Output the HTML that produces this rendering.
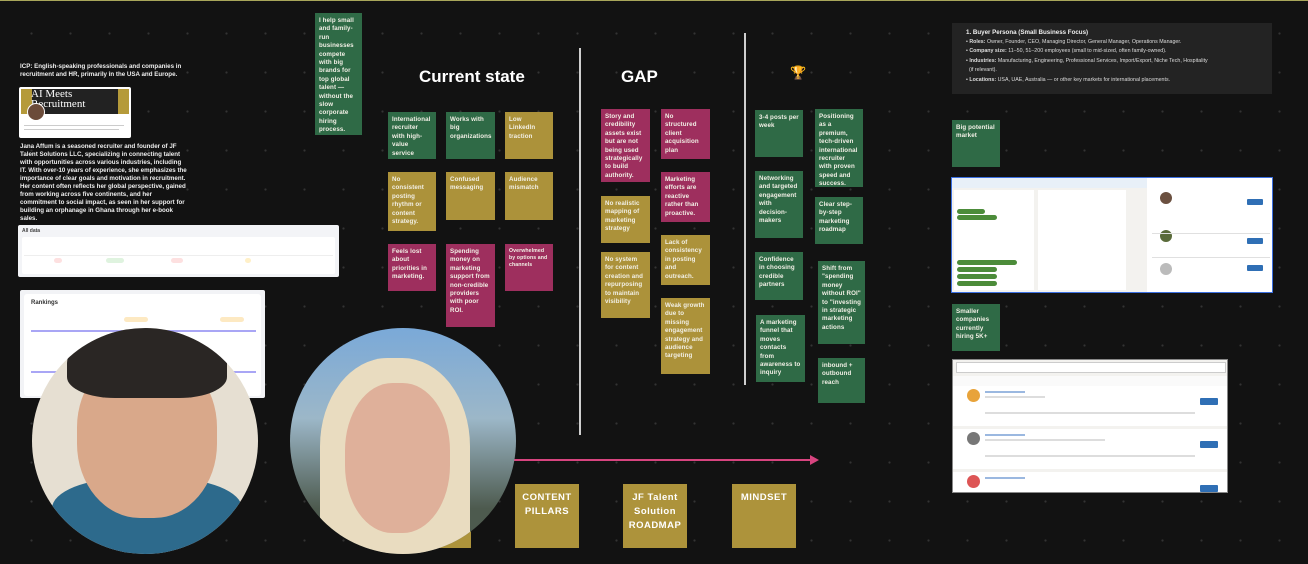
<!DOCTYPE html>
<html><head><meta charset="utf-8"><style>
*{margin:0;padding:0;box-sizing:border-box}
html{width:1308px;height:564px;overflow:hidden}
body{width:1308px;height:564px;overflow:hidden;background:#121212;position:relative;font-family:"Liberation Sans",sans-serif;
background-image:radial-gradient(circle,#333 0.9px,transparent 1.3px);background-size:39px 39px;background-position:12px 14px}
.a{position:absolute}
.s{position:absolute;color:#f2f0e6;font-size:6.2px;line-height:8.4px;font-weight:bold;padding:4px 4px;overflow:hidden;letter-spacing:0.1px}
.g{background:#2f6a46}.y{background:#ac923a}.m{background:#9e2f5e}
.t{color:#fff;font-size:17px;font-weight:bold;position:absolute}
.vl{position:absolute;width:1.5px;background:#cfcfcf}
.b{position:absolute;background:#ad933b;color:#fff;font-size:9.5px;font-weight:bold;text-align:center;padding-top:7px;line-height:14px;letter-spacing:.5px}
.w{color:#eee;font-size:6.2px;line-height:8px;font-weight:bold}
.card{position:absolute;background:#fff;border-radius:2px;overflow:hidden}
.tiny{font-size:3.5px;color:#888;position:absolute}
.pill{position:absolute;height:5px;border-radius:3px}
.ln{position:absolute;height:1.5px;background:#ddd}
</style></head><body>
<div class="a" style="left:0;top:0;width:1308px;height:1px;background:#a8a65a"></div>

<div class="a w" style="left:20px;top:63px;width:170px">ICP: English-speaking professionals and companies in recruitment and HR, primarily in the USA and Europe.</div>
<div class="card" style="left:19px;top:87px;width:112px;height:51px">
 <div class="a" style="left:2px;top:2px;width:108px;height:25px;background:linear-gradient(90deg,#b59a3a 0 10%,#222 10% 90%,#b59a3a 90%)"></div>
 <div class="a" style="left:12px;top:2px;color:#fff;font-family:'Liberation Serif',serif;font-size:11px;line-height:10px">AI Meets<br>Recruitment</div>
 <div class="a" style="left:8px;top:16px;width:18px;height:18px;border-radius:50%;background:#6b4b3a;border:1px solid #fff"></div>
 <div class="tiny" style="left:5px;top:38px;width:100px;height:1px;background:#ccc"></div>
 <div class="tiny" style="left:5px;top:42px;width:95px;height:1px;background:#ccc"></div>
</div>
<div class="a w" style="left:20px;top:143px;width:168px">Jana Affum is a seasoned recruiter and founder of JF Talent Solutions LLC, specializing in connecting talent with opportunities across various industries, including IT. With over-10 years of experience, she emphasizes the importance of clear goals and motivation in recruitment. Her content often reflects her global perspective, gained from working across five continents, and her commitment to social impact, as seen in her support for building an orphanage in Ghana through her e-book sales.</div>
<div class="a" style="left:18px;top:225px;width:321px;height:52px;background:#f3f4f7;border-radius:2px">
 <div class="a" style="left:4px;top:3px;font-size:5px;color:#444;font-weight:bold">All data</div>
 <div class="a" style="left:4px;top:12px;width:313px;height:37px;background:#fff;border-radius:2px"></div>
 <div class="a" style="left:6px;top:30px;width:309px;height:18px;background:#fff;border-top:1px solid #eee"></div>
 <div class="pill" style="left:36px;top:33px;width:8px;background:#fde0e0"></div>
 <div class="pill" style="left:88px;top:33px;width:18px;background:#dff3df"></div>
 <div class="pill" style="left:153px;top:33px;width:12px;background:#fde0e0"></div>
 <div class="pill" style="left:227px;top:33px;width:6px;background:#fff0c8"></div>
</div>
<div class="a" style="left:20px;top:290px;width:245px;height:108px;background:#f2f3f6;border-radius:2px">
 <div class="a" style="left:4px;top:4px;width:237px;height:102px;background:#fff;border-radius:3px"></div>
 <div class="a" style="left:11px;top:10px;font-size:6px;font-weight:bold;color:#333">Rankings</div>
 <div class="pill" style="left:104px;top:27px;width:24px;background:#fde9c2"></div>
 <div class="pill" style="left:200px;top:27px;width:24px;background:#fde9c2"></div>
 <div class="a" style="left:11px;top:40px;width:225px;height:2px;background:#a9a6f5"></div>
 <div class="a" style="left:11px;top:81px;width:225px;height:2px;background:#a9a6f5"></div>
</div>

<div class="a" style="left:32px;top:328px;width:226px;height:226px;border-radius:50%;overflow:hidden;background:#e6dfd2">
 <div class="a" style="left:20px;top:150px;width:190px;height:76px;background:#2d6a8c;border-radius:40% 40% 0 0"></div>
 <div class="a" style="left:45px;top:25px;width:140px;height:165px;background:#d9a88a;border-radius:45%"></div>
 <div class="a" style="left:35px;top:0;width:160px;height:70px;background:#2a2624;border-radius:50% 50% 30% 30%"></div>
</div>

<div class="s g" style="left:315px;top:13px;width:47px;height:122px">I help small and family-run businesses compete with big brands for top global talent — without the slow corporate hiring process.</div>

<div class="t" style="left:419px;top:67px">Current state</div>
<div class="t" style="left:621px;top:67px">GAP</div>
<div class="a" style="left:790px;top:66px;font-size:13px;line-height:14px;color:#d4a020">🏆</div>
<div class="vl" style="left:579px;top:48px;height:387px"></div>
<div class="vl" style="left:744px;top:33px;height:352px"></div>

<div class="s g" style="left:388px;top:112px;width:48px;height:47px">International recruiter with high-value service</div>
<div class="s g" style="left:446px;top:112px;width:49px;height:47px">Works with big organizations</div>
<div class="s y" style="left:505px;top:112px;width:48px;height:47px">Low LinkedIn traction</div>
<div class="s y" style="left:388px;top:172px;width:48px;height:59px">No consistent posting rhythm or content strategy.</div>
<div class="s y" style="left:446px;top:172px;width:49px;height:48px">Confused messaging</div>
<div class="s y" style="left:505px;top:172px;width:48px;height:48px">Audience mismatch</div>
<div class="s m" style="left:388px;top:244px;width:48px;height:47px">Feels lost about priorities in marketing.</div>
<div class="s m" style="left:446px;top:244px;width:49px;height:83px">Spending money on marketing support from non-credible providers with poor ROI.</div>
<div class="s m" style="left:505px;top:244px;width:48px;height:47px;font-size:5.2px;line-height:7px">Overwhelmed by options and channels</div>

<div class="s m" style="left:601px;top:109px;width:49px;height:73px">Story and credibility assets exist but are not being used strategically to build authority.</div>
<div class="s y" style="left:601px;top:196px;width:49px;height:47px">No realistic mapping of marketing strategy</div>
<div class="s y" style="left:601px;top:252px;width:49px;height:66px">No system for content creation and repurposing to maintain visibility</div>
<div class="s m" style="left:661px;top:109px;width:49px;height:50px">No structured client acquisition plan</div>
<div class="s m" style="left:661px;top:172px;width:49px;height:50px">Marketing efforts are reactive rather than proactive.</div>
<div class="s y" style="left:661px;top:235px;width:49px;height:50px">Lack of consistency in posting and outreach.</div>
<div class="s y" style="left:661px;top:298px;width:49px;height:76px">Weak growth due to missing engagement strategy and audience targeting</div>

<div class="s g" style="left:755px;top:110px;width:48px;height:47px">3-4 posts per week</div>
<div class="s g" style="left:755px;top:171px;width:48px;height:67px">Networking and targeted engagement with decision-makers</div>
<div class="s g" style="left:755px;top:252px;width:48px;height:48px">Confidence in choosing credible partners</div>
<div class="s g" style="left:756px;top:315px;width:49px;height:67px">A marketing funnel that moves contacts from awareness to inquiry</div>
<div class="s g" style="left:815px;top:109px;width:48px;height:78px">Positioning as a premium, tech-driven international recruiter with proven speed and success.</div>
<div class="s g" style="left:815px;top:197px;width:48px;height:47px">Clear step-by-step marketing roadmap</div>
<div class="s g" style="left:818px;top:261px;width:47px;height:83px">Shift from "spending money without ROI" to "investing in strategic marketing actions</div>
<div class="s g" style="left:818px;top:358px;width:47px;height:45px">inbound + outbound reach</div>

<div class="a" style="left:513px;top:459px;width:300px;height:2px;background:#d8447f"></div>
<div class="a" style="left:810px;top:455px;width:0;height:0;border-left:9px solid #d8447f;border-top:5px solid transparent;border-bottom:5px solid transparent"></div>

<div class="b" style="left:407px;top:484px;width:64px;height:64px"></div>
<div class="b" style="left:515px;top:484px;width:64px;height:64px">CONTENT<br>PILLARS</div>
<div class="b" style="left:623px;top:484px;width:64px;height:64px">JF Talent<br>Solution<br>ROADMAP</div>
<div class="b" style="left:732px;top:484px;width:64px;height:64px">MINDSET</div>
<div class="a" style="left:290px;top:328px;width:226px;height:226px;border-radius:50%;overflow:hidden;background:linear-gradient(180deg,#7aa9d8 0%,#9cb7c8 40%,#4d5a4e 80%)">
 <div class="a" style="left:30px;top:30px;width:150px;height:196px;background:#e9dcc0;border-radius:45% 45% 0 0"></div>
 <div class="a" style="left:55px;top:55px;width:105px;height:150px;background:#dfb09a;border-radius:45%"></div>
</div>

<div class="a" style="left:952px;top:23px;width:320px;height:71px;background:#232323;color:#ddd;font-size:5.3px;line-height:9.6px;padding:5px 0 0 14px">
 <div style="font-size:6.2px;font-weight:bold;color:#eee">1. Buyer Persona (Small Business Focus)</div>
 <div>• <b>Roles:</b> Owner, Founder, CEO, Managing Director, General Manager, Operations Manager.</div>
 <div>• <b>Company size:</b> 11–50, 51–200 employees (small to mid-sized, often family-owned).</div>
 <div>• <b>Industries:</b> Manufacturing, Engineering, Professional Services, Import/Export, Niche Tech, Hospitality<br>&nbsp;&nbsp;(if relevant).</div>
 <div>• <b>Locations:</b> USA, UAE, Australia — or other key markets for international placements.</div>
</div>
<div class="s g" style="left:952px;top:120px;width:48px;height:47px">Big potential market</div>
<div class="a" style="left:951px;top:177px;width:322px;height:116px;background:#fff;border:1.5px solid #3b6fe0;overflow:hidden">
 <div class="a" style="left:0;top:0;width:195px;height:114px;background:#f3f2ef"></div>
 <div class="a" style="left:0;top:0;width:195px;height:10px;background:#e8f0f8"></div>
 <div class="a" style="left:2px;top:12px;width:80px;height:100px;background:#fff"></div>
 <div class="a" style="left:86px;top:12px;width:88px;height:100px;background:#fff"></div>
 <div class="pill" style="left:5px;top:31px;width:28px;background:#4c8c3a"></div>
 <div class="pill" style="left:5px;top:37px;width:40px;background:#4c8c3a"></div>
 <div class="pill" style="left:5px;top:82px;width:60px;background:#4c8c3a"></div>
 <div class="pill" style="left:5px;top:89px;width:40px;background:#4c8c3a"></div>
 <div class="pill" style="left:5px;top:96px;width:40px;background:#4c8c3a"></div>
 <div class="pill" style="left:5px;top:103px;width:40px;background:#4c8c3a"></div>
 <div class="a" style="left:208px;top:14px;width:12px;height:12px;border-radius:50%;background:#6b5040"></div>
 <div class="a" style="left:208px;top:52px;width:12px;height:12px;border-radius:50%;background:#5a6b3a"></div>
 <div class="a" style="left:208px;top:85px;width:12px;height:12px;border-radius:50%;background:#bbb"></div>
 <div class="pill" style="left:295px;top:21px;width:16px;height:6px;border-radius:1px;background:#2f6fb5"></div>
 <div class="pill" style="left:295px;top:60px;width:16px;height:6px;border-radius:1px;background:#2f6fb5"></div>
 <div class="pill" style="left:295px;top:87px;width:16px;height:6px;border-radius:1px;background:#2f6fb5"></div>
 <div class="a" style="left:200px;top:55px;width:118px;height:1px;background:#e0e0e0"></div>
 <div class="a" style="left:200px;top:79px;width:118px;height:1px;background:#e0e0e0"></div>
</div>
<div class="s g" style="left:952px;top:304px;width:48px;height:47px">Smaller companies currently hiring 5K+</div>
<div class="a" style="left:952px;top:359px;width:276px;height:134px;background:#f3f2ef;border:1px solid #888;overflow:hidden">
 <div class="a" style="left:3px;top:2px;width:270px;height:11px;background:#fff;border:1px solid #ccc"></div>
 <div class="a" style="left:0;top:16px;width:276px;height:10px;background:#fafafa"></div>
 <div class="a" style="left:0;top:26px;width:276px;height:40px;background:#fff"></div>
 <div class="a" style="left:0;top:69px;width:276px;height:40px;background:#fff"></div>
 <div class="a" style="left:0;top:112px;width:276px;height:22px;background:#fff"></div>
 <div class="a" style="left:14px;top:29px;width:13px;height:13px;border-radius:50%;background:#e8a33a"></div>
 <div class="a" style="left:14px;top:72px;width:13px;height:13px;border-radius:50%;background:#777"></div>
 <div class="a" style="left:14px;top:115px;width:13px;height:13px;border-radius:50%;background:#d55"></div>
 <div class="ln" style="left:32px;top:31px;width:40px;background:#9bb8e0"></div>
 <div class="ln" style="left:32px;top:74px;width:40px;background:#9bb8e0"></div>
 <div class="ln" style="left:32px;top:117px;width:40px;background:#9bb8e0"></div>
 <div class="ln" style="left:32px;top:36px;width:60px"></div>
 <div class="ln" style="left:32px;top:79px;width:120px"></div>
 <div class="ln" style="left:32px;top:52px;width:210px"></div>
 <div class="ln" style="left:32px;top:95px;width:210px"></div>
 <div class="pill" style="left:247px;top:38px;width:18px;height:7px;border-radius:1px;background:#2f6fb5"></div>
 <div class="pill" style="left:247px;top:81px;width:18px;height:7px;border-radius:1px;background:#2f6fb5"></div>
 <div class="pill" style="left:247px;top:125px;width:18px;height:7px;border-radius:1px;background:#2f6fb5"></div>
</div>
</body></html>
